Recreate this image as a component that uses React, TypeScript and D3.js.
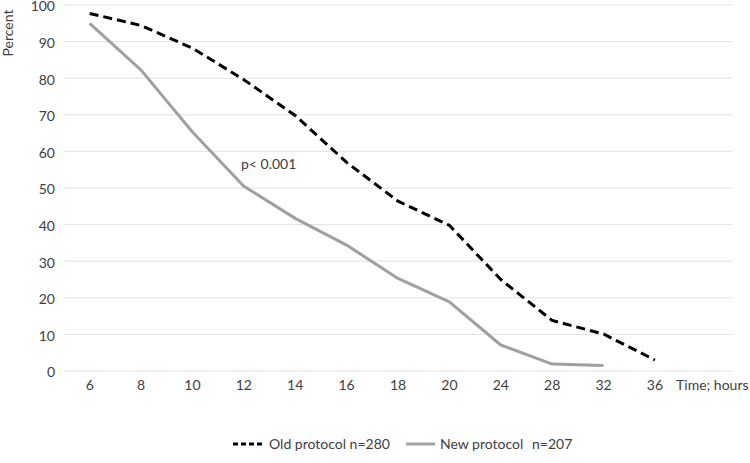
import { useRef, useEffect } from "react";
import * as d3 from "d3";

// x categories (last slot is the axis title, as in the original spreadsheet chart)
const categories = ["6", "8", "10", "12", "14", "16", "18", "20", "24", "28", "32", "36", "Time; hours"];
const oldProtocol = [97.7, 94.4, 88.2, 79.6, 69.8, 57, 46.4, 39.8, 25, 13.8, 10.1, 3];
const newProtocol = [95, 82.2, 65.3, 50.5, 41.7, 34.4, 25.3, 18.9, 7.1, 1.9, 1.5];
const yTicks = [0, 10, 20, 30, 40, 50, 60, 70, 80, 90, 100];

const W = 750;
const H = 463;
const plot = { left: 64, right: 732, top: 5, bottom: 371 };
const font = "Lato, 'Open Sans', sans-serif";
const textColor = "#404040";

export default function App() {
    const svgRef = useRef<SVGSVGElement>(null);

    useEffect(() => {
        const svg = d3.select(svgRef.current as SVGSVGElement);
        svg.selectAll("*").remove();

        const x = d3.scaleBand<string>().domain(categories).range([plot.left, plot.right]);
        const y = d3.scaleLinear().domain([0, 100]).range([plot.bottom, plot.top]);
        const cx = (i: number) => (x(categories[i]) as number) + x.bandwidth() / 2;

        // gridlines
        svg.append("g")
            .selectAll("line")
            .data(yTicks)
            .join("line")
            .attr("x1", plot.left)
            .attr("x2", plot.right)
            .attr("y1", d => y(d))
            .attr("y2", d => y(d))
            .attr("stroke", "#e3e3e3")
            .attr("stroke-width", 1);

        // y labels
        svg.append("g")
            .call(d3.axisLeft(y).tickValues(yTicks).tickSize(0).tickPadding(0))
            .attr("transform", "translate(55,1.5)")
            .call(g => g.select(".domain").remove())
            .call(g => g.selectAll("text")
                .attr("fill", textColor)
                .style("font-family", font)
                .style("font-size", "14px"));

        // x labels
        svg.append("g")
            .call(d3.axisBottom(x).tickSize(0).tickPadding(0))
            .attr("transform", `translate(0,${plot.bottom + 9})`)
            .call(g => g.select(".domain").remove())
            .call(g => g.selectAll("text")
                .attr("fill", textColor)
                .style("font-family", font)
                .style("font-size", "14px"))
            // the title slot sits a little right of its band centre
            .call(g => g.selectAll<SVGGElement, string>(".tick")
                .filter(d => d === "Time; hours")
                .select("text")
                .attr("x", 6));

        const line = d3.line<number>()
            .x((_, i) => cx(i))
            .y(d => y(d));

        svg.append("path")
            .datum(newProtocol)
            .attr("d", line)
            .attr("fill", "none")
            .attr("stroke", "#a0a0a0")
            .attr("stroke-width", 3)
            .attr("stroke-linejoin", "round");

        svg.append("path")
            .datum(oldProtocol)
            .attr("d", line)
            .attr("fill", "none")
            .attr("stroke", "#000")
            .attr("stroke-width", 3)
            .attr("stroke-dasharray", "9,5");

        // axis title
        svg.append("text")
            .attr("transform", "translate(13,33) rotate(-90)")
            .attr("text-anchor", "middle")
            .attr("fill", textColor)
            .style("font-family", font)
            .style("font-size", "14px")
            .text("Percent");

        // annotation
        svg.append("text")
            .attr("x", 241)
            .attr("y", 169)
            .attr("fill", textColor)
            .style("font-family", font)
            .style("font-size", "14px")
            .text("p< 0.001");

        // legend
        const lg = svg.append("g").attr("transform", "translate(0,444)");
        lg.append("line")
            .attr("x1", 233).attr("x2", 263)
            .attr("stroke", "#000").attr("stroke-width", 3)
            .attr("stroke-dasharray", "5,3");
        lg.append("text")
            .attr("x", 269).attr("dy", "0.35em")
            .attr("fill", textColor)
            .style("font-family", font).style("font-size", "14px")
            .text("Old protocol n=280");
        lg.append("line")
            .attr("x1", 406).attr("x2", 435)
            .attr("stroke", "#a0a0a0").attr("stroke-width", 3);
        lg.append("text")
            .attr("x", 440).attr("dy", "0.35em")
            .attr("fill", textColor)
            .style("font-family", font).style("font-size", "14px")
            .text("New protocol");
        lg.append("text")
            .attr("x", 532).attr("dy", "0.35em")
            .attr("fill", textColor)
            .style("font-family", font).style("font-size", "14px")
            .text("n=207");
    }, []);

    return (
        <svg
            ref={svgRef}
            width={W}
            height={H}
            style={{ display: "block", position: "absolute", left: 0, top: 0, background: "#fff" }}
        />
    );
}
